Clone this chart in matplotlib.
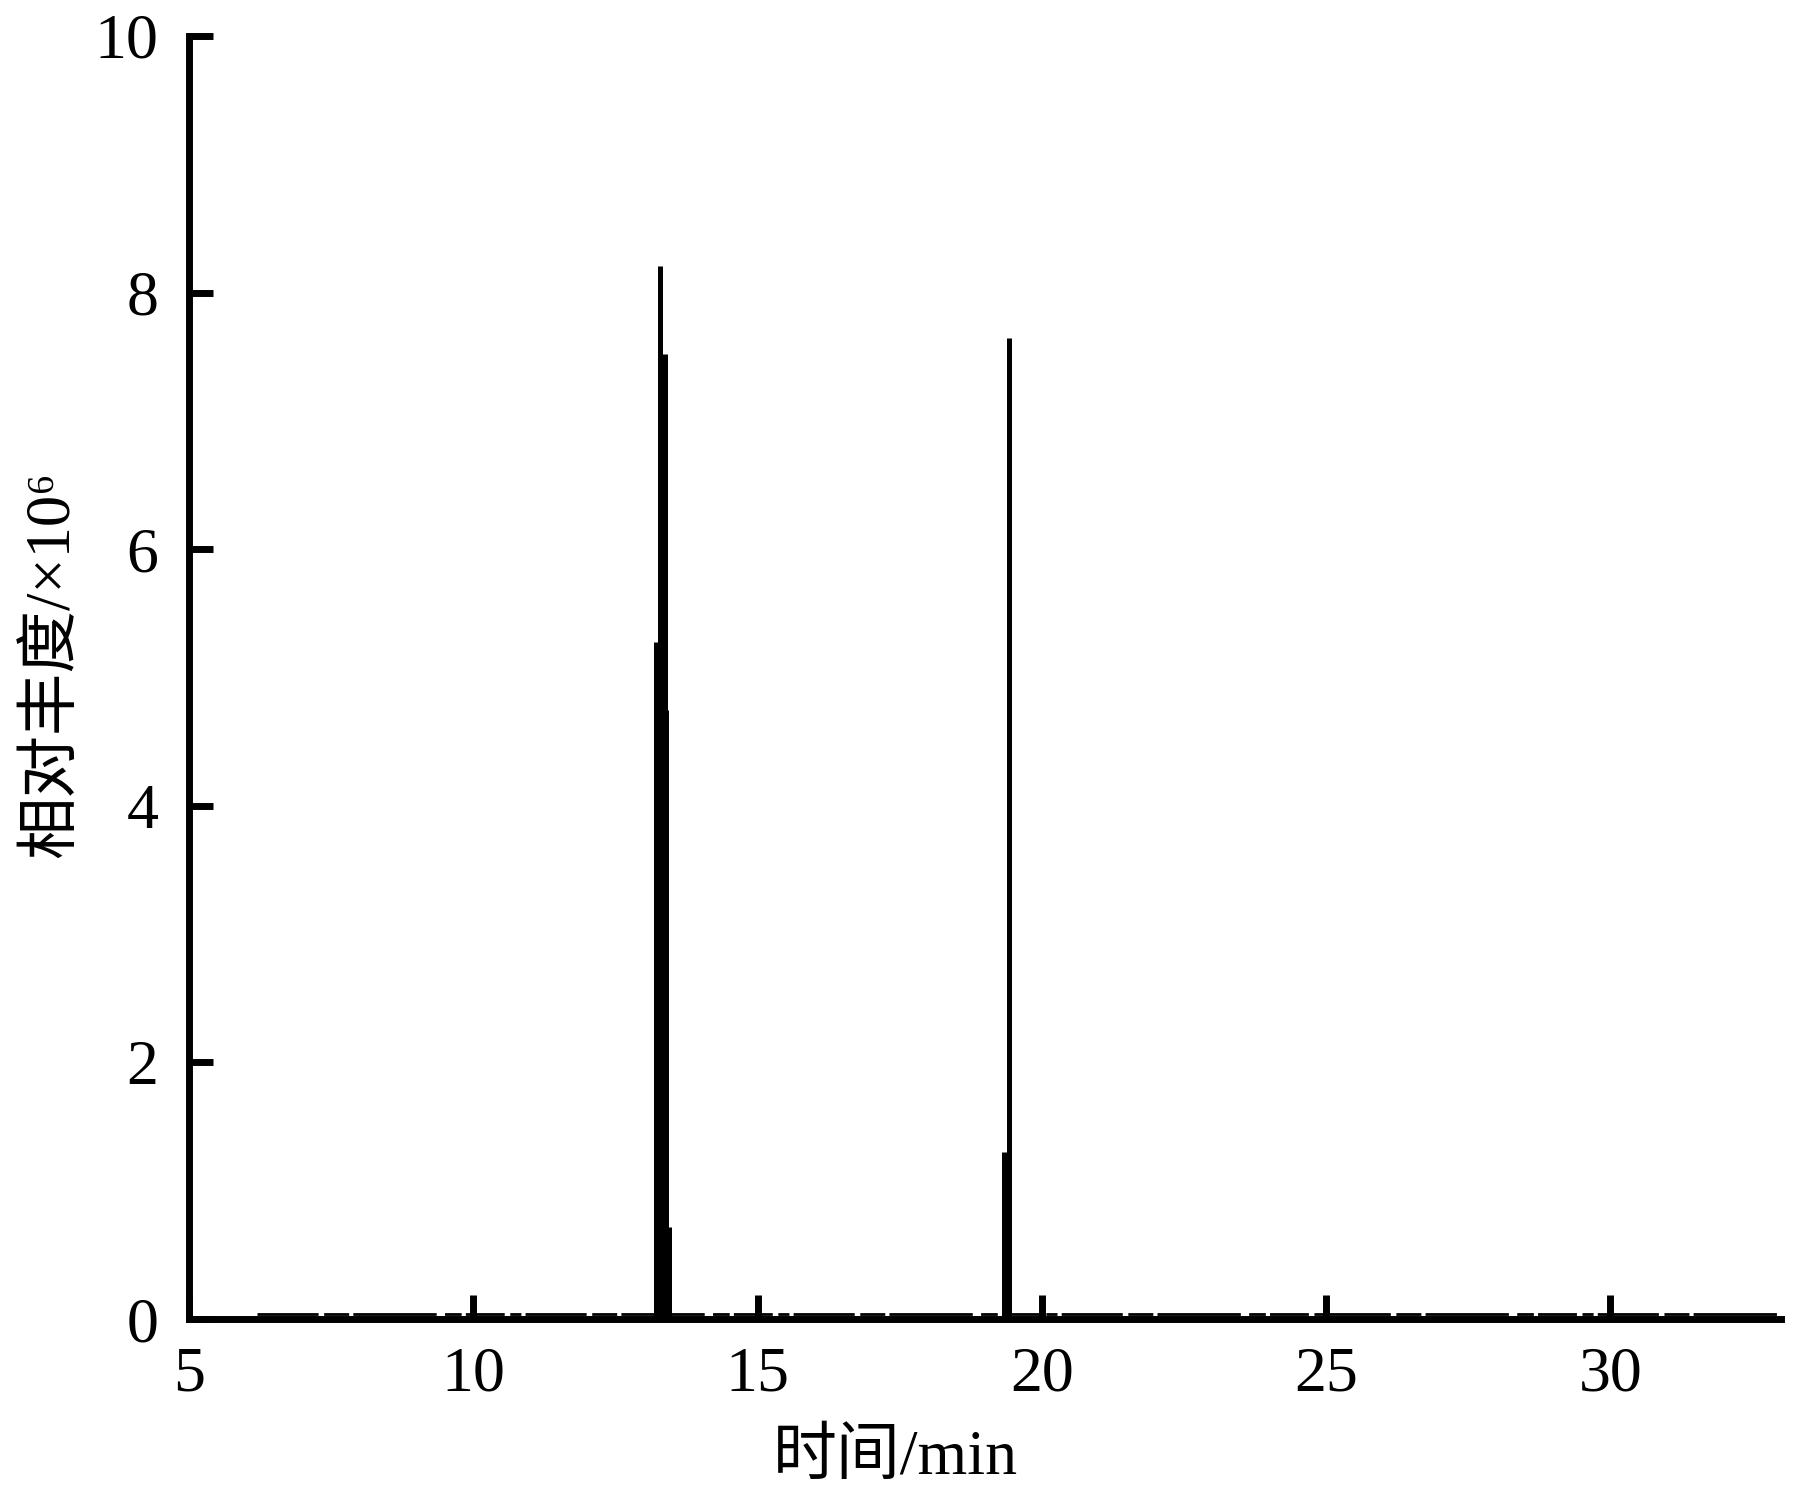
import matplotlib
matplotlib.use("Agg")
import matplotlib.pyplot as plt

plt.rcParams['font.family'] = ['Liberation Serif', 'Noto Sans CJK SC']

# Data (retention time in min, relative abundance x10^6)
peak_times = [13.21, 13.29, 13.37, 13.39, 13.44, 19.34, 19.42]
peak_heights = [5.28, 8.21, 7.52, 4.75, 0.72, 1.30, 7.65]
baseline_start = 6.2
baseline_end = 33.0
baseline_level = 0.04

x_ticks = [5, 10, 15, 20, 25, 30]
y_ticks = [0, 2, 4, 6, 8, 10]
x_label = "时间/min"
y_label = "相对丰度/×10⁶"

W, H = 1795, 1499
fig = plt.figure(figsize=(W / 100, H / 100), dpi=100)
ax = fig.add_axes([189 / W, 1 - 1319 / H, (1781 - 189) / W, (1319 - 36) / H])

# baseline noise
ax.plot([baseline_start, baseline_end], [baseline_level, baseline_level],
        color='black', lw=2.0,
        dashes=(22, 2, 9, 1.5, 30, 3, 6, 1.5, 14, 2, 4, 1.5),
        solid_capstyle='butt', dash_capstyle='butt', zorder=2)

# peaks
ax.vlines(peak_times, 0, peak_heights, color='black', lw=3.6, zorder=3)

ax.set_xlim(5, 33)
ax.set_ylim(0, 10)
ax.set_xticks(x_ticks)
ax.set_yticks(y_ticks)
ax.tick_params(direction='in', length=17, width=5, labelsize=46, colors='black')
ax.tick_params(axis='x', pad=20)
ax.tick_params(axis='y', pad=22)
for s in ['top', 'right']:
    ax.spines[s].set_visible(False)
for s in ['left', 'bottom']:
    ax.spines[s].set_linewidth(5)

ax.set_xlabel(x_label, fontsize=46)
ax.xaxis.set_label_coords(0.444, -0.0865)
ax.set_ylabel(y_label, fontsize=45)
ax.yaxis.set_label_coords(-0.067, 0.51)

fig.savefig("out.png", dpi=100, facecolor='white')
